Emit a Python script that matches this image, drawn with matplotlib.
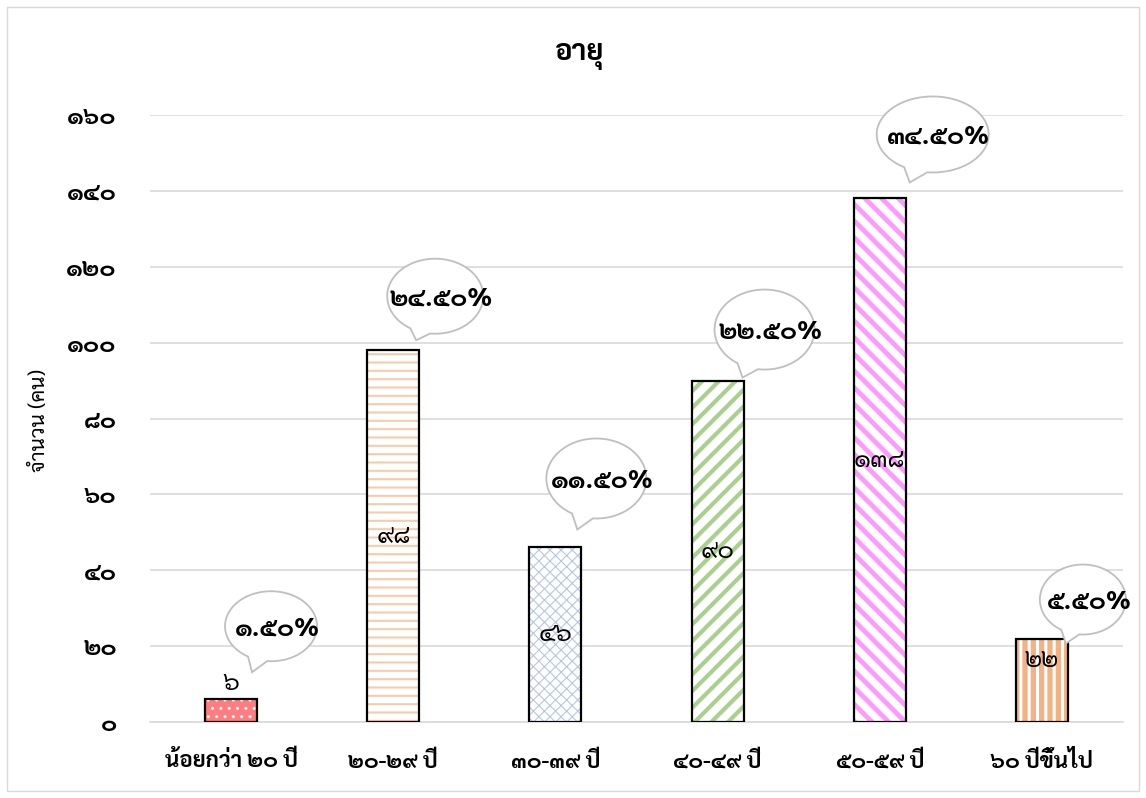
import matplotlib
matplotlib.use("Agg")
import numpy as np
import matplotlib.pyplot as plt
from matplotlib import font_manager as fm
from matplotlib import patheffects as pe
from matplotlib.ft2font import FT2Font
from matplotlib.patches import PathPatch, Rectangle
from matplotlib.path import Path
from matplotlib.transforms import IdentityTransform

# ---- data -------------------------------------------------------------
categories = ["น้อยกว่า ๒๐ ปี", "๒๐-๒๙ ปี", "๓๐-๓๙ ปี",
              "๔๐-๔๙ ปี", "๕๐-๕๙ ปี", "๖๐ ปีขึ้นไป"]
counts = [6, 98, 46, 90, 138, 22]
percents = [1.50, 24.50, 11.50, 22.50, 34.50, 5.50]
y_ticks = [0, 20, 40, 60, 80, 100, 120, 140, 160]
title_text = "อายุ"
y_label_text = "จำนวน (คน)"

# ---- styles -----------------------------------------------------------
fill_colors = ["#ff7c80", "white", "white", "white", "white", "#f4b183"]
hatch_patterns = ["..", "--", "xxx", "//", "\\\\", "||"]
hatch_colors = ["white", "#f8cbad", "#b4c7e7", "#a9d18e", "#ff99ff", "white"]
hatch_widths = [1.0, 1.5, 0.8, 3.0, 3.4, 2.2]
# value label: inside the bar centre, or just above it
label_above = [True, False, False, False, False, False]
label_shift_px = [0, 0, 0, 0, 0, 20]
# callout tip relative to the bar's top-right corner (px, y up),
# ellipse centre relative to the tip, ellipse size
tip_offsets = [(-5, 27), (-3, 10), (-4, 18), (-1, 3), (4, 16), (-2, -5)]
bubble_centres = [(19, 46), (19, 44), (19, 51), (22, 48), (23, 48), (17, 44)]
bubble_sizes = [(92, 70), (96, 75), (100, 80), (100, 80), (112, 76), (86, 70)]

THAI_DIGITS = str.maketrans("0123456789", "๐๑๒๓๔๕๖๗๘๙")


def thai_num(s):
    return str(s).translate(THAI_DIGITS)


def find_thai_family():
    preferred = ["Leelawadee UI", "Leelawadee", "Tahoma", "Noto Sans Thai",
                 "Noto Sans Thai UI", "Noto Sans Thai Looped", "Sarabun",
                 "Kanit", "Prompt", "Loma", "Garuda", "Umpush", "Waree",
                 "Norasi"]
    weights = {}
    for entry in fm.fontManager.ttflist:
        try:
            cmap = FT2Font(entry.fname).get_charmap()
        except Exception:
            continue
        if 0x0E32 in cmap and 0x0E51 in cmap:
            w = entry.weight if isinstance(entry.weight, int) else 400
            weights.setdefault(entry.name, set()).add(w)
    if not weights:
        return None, False
    with_bold = [n for n in weights if max(weights[n]) >= 600]
    for pool in (with_bold, list(weights)):
        for name in preferred:
            if name in pool:
                return name, name in with_bold
        if pool:
            name = sorted(pool)[0]
            return name, name in with_bold
    return None, False


thai_family, thai_has_bold = find_thai_family()
families = ([thai_family] if thai_family else []) + ["DejaVu Sans"]
plt.rcParams["font.family"] = families


def bold(stroke=0.9):
    """Bold text: the real bold face when present, otherwise a thin outline."""
    if thai_has_bold:
        return {"fontweight": "bold"}
    return {"path_effects": [pe.withStroke(linewidth=stroke,
                                           foreground="black")]}


DPI = 100
W, H = 1146, 798
fig = plt.figure(figsize=(W / DPI, H / DPI), dpi=DPI)
fig.patch.set_facecolor("white")
fig.add_artist(Rectangle((7 / W, 7 / H), (W - 14) / W, (H - 14) / H,
                         transform=fig.transFigure, fill=False,
                         edgecolor="#d9d9d9", linewidth=1.0))

left, right, top, bottom = 150, 1123, 115, 722
ax = fig.add_axes([left / W, (H - bottom) / H, (right - left) / W,
                   (bottom - top) / H])
x = np.arange(len(categories))
ax.set_xlim(-0.5, len(categories) - 0.5)
ax.set_ylim(0, 160)
ax.set_yticks(y_ticks)
ax.set_yticklabels([thai_num(v) for v in y_ticks], fontsize=17.5, **bold(1.0))
ax.set_xticks(x)
ax.set_xticklabels(categories, fontsize=16, **bold(0.8))
ax.tick_params(axis="both", length=0, colors="black")
ax.tick_params(axis="y", pad=24)
ax.tick_params(axis="x", pad=21)
for side in ("left", "right", "top"):
    ax.spines[side].set_visible(False)
ax.spines["bottom"].set_color("#d9d9d9")
ax.spines["bottom"].set_linewidth(1.2)
ax.yaxis.grid(True, color="#d9d9d9", linewidth=1.2)
ax.set_axisbelow(True)

bar_width = 0.32
for i in range(len(counts)):
    with plt.rc_context({"hatch.linewidth": hatch_widths[i]}):
        bars = ax.bar(x[i], counts[i], width=bar_width,
                      color=fill_colors[i], edgecolor=hatch_colors[i],
                      hatch=hatch_patterns[i], linewidth=0, zorder=2)
        for p in bars:
            if hasattr(p, "set_hatch_linewidth"):
                p.set_hatch_linewidth(hatch_widths[i])
    ax.bar(x[i], counts[i], width=bar_width, fill=False,
           edgecolor="black", linewidth=1.6, zorder=3)

for i, c in enumerate(counts):
    if label_above[i]:
        ax.annotate(thai_num(c), (x[i], c), xytext=(0, 2),
                    textcoords="offset points", ha="center", va="bottom",
                    fontsize=18, zorder=5)
    else:
        ax.annotate(thai_num(c), (x[i], c / 2),
                    xytext=(0, label_shift_px[i] * 72 / DPI),
                    textcoords="offset points", ha="center", va="center",
                    fontsize=18, zorder=5)

fig.text(0.506, 1 - 55 / H, title_text, ha="center", va="center",
         fontsize=21, **bold(1.1))
fig.text(40 / W, 1 - 420 / H, y_label_text, ha="center", va="center",
         rotation=90, fontsize=15)

# speech-bubble callouts carrying the share of each group
fig.canvas.draw()
for i, c in enumerate(counts):
    bx, by = ax.transData.transform((x[i] + bar_width / 2, c))
    tx, ty = bx + tip_offsets[i][0], by + tip_offsets[i][1]
    cx, cy = tx + bubble_centres[i][0], ty + bubble_centres[i][1]
    a, b = bubble_sizes[i][0] / 2, bubble_sizes[i][1] / 2
    phi = np.arctan2((ty - cy) / b, (tx - cx) / a)
    delta = 0.22
    t = np.linspace(phi + delta, phi - delta + 2 * np.pi, 160)
    verts = np.column_stack([cx + a * np.cos(t), cy + b * np.sin(t)])
    verts = np.vstack([verts, [tx, ty], verts[0]])
    codes = [Path.MOVETO] + [Path.LINETO] * (len(verts) - 2) + [Path.CLOSEPOLY]
    patch = PathPatch(Path(verts, codes), transform=IdentityTransform(),
                      facecolor="white", edgecolor="#bfbfbf", linewidth=1.3,
                      zorder=6)
    fig.add_artist(patch)
    label = thai_num(f"{percents[i]:.2f}") + "%"
    fig.text((cx + 6) / W, (cy - 3) / H, label, ha="center", va="center",
             fontsize=18.5, zorder=7, **bold(1.0))

fig.savefig("out.png", dpi=DPI, facecolor="white")
